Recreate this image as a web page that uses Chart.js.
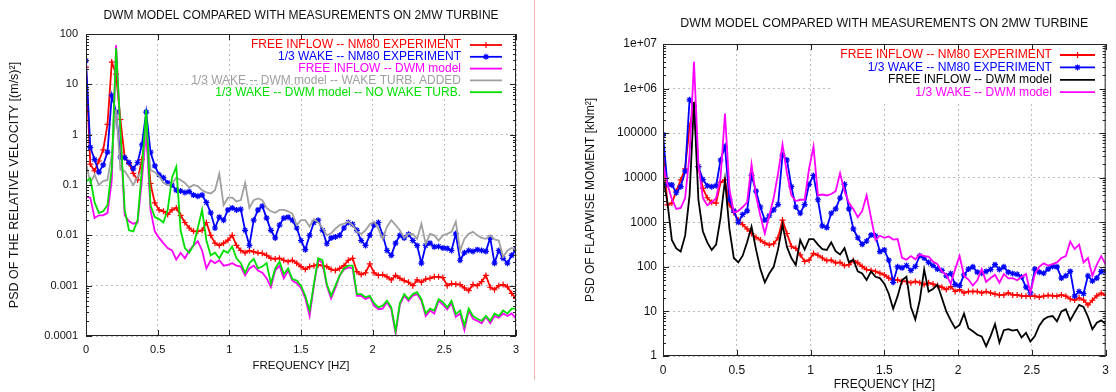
<!DOCTYPE html>
<html>
<head>
<meta charset="utf-8">
<script src="https://cdn.jsdelivr.net/npm/chart.js@4.4.1/dist/chart.umd.min.js"></script>
<style>
  html, body { margin: 0; padding: 0; background: #fff; }
  #wrap { position: relative; width: 1116px; height: 392px; overflow: hidden; }
  #velocity { position: absolute; left: 0; top: 0; }
  #moment { position: absolute; left: 540px; top: 0; }
  #sep { position: absolute; left: 534px; top: 0; width: 1px; height: 380px; background: #ffb4b4; }
</style>
</head>
<body>
<div id="wrap">
  <canvas id="velocity" width="530" height="392"></canvas>
  <div id="sep"></div>
  <canvas id="moment" width="576" height="392"></canvas>
</div>
<script>
// frequency bins [Hz], shared by both plots
const frequency = [
  0, 0.03, 0.06, 0.09, 0.12, 0.15, 0.18, 0.21, 0.24, 0.27,
  0.3, 0.33, 0.36, 0.39, 0.42, 0.45, 0.48, 0.51, 0.54, 0.57,
  0.6, 0.63, 0.66, 0.69, 0.72, 0.75, 0.78, 0.81, 0.84, 0.87,
  0.9, 0.93, 0.96, 0.99, 1.02, 1.05, 1.08, 1.11, 1.14, 1.17,
  1.2, 1.23, 1.26, 1.29, 1.32, 1.35, 1.38, 1.41, 1.44, 1.47,
  1.5, 1.53, 1.56, 1.59, 1.62, 1.65, 1.68, 1.71, 1.74, 1.77,
  1.8, 1.83, 1.86, 1.89, 1.92, 1.95, 1.98, 2.01, 2.04, 2.07,
  2.1, 2.13, 2.16, 2.19, 2.22, 2.25, 2.28, 2.31, 2.34, 2.37,
  2.4, 2.43, 2.46, 2.49, 2.52, 2.55, 2.58, 2.61, 2.64, 2.67,
  2.7, 2.73, 2.76, 2.79, 2.82, 2.85, 2.88, 2.91, 2.94, 2.97,
  3
];
const xTicks = [0, 0.5, 1, 1.5, 2, 2.5, 3];
const xTickLabels = ['0', '0.5', '1', '1.5', '2', '2.5', '3'];

// ---- left plot: PSD of relative velocity [(m/s)^2]
const velFreeExp = [
  22, 0.26, 0.19, 0.3, 0.5, 1.6, 27.5, 16, 2.0, 0.35,
  0.27, 0.17, 0.126, 0.32, 1.1, 0.107, 0.044, 0.032, 0.03, 0.026,
  0.032, 0.035, 0.025, 0.018, 0.014, 0.012, 0.012, 0.0126, 0.018, 0.01,
  0.007, 0.0063, 0.007, 0.008, 0.01, 0.0063, 0.005, 0.0045, 0.005, 0.0047,
  0.0045, 0.0044, 0.004, 0.0035, 0.0034, 0.0035, 0.0032, 0.003, 0.0032, 0.0028,
  0.0024, 0.0021, 0.0024, 0.0025, 0.0026, 0.0025, 0.0024, 0.0021, 0.002, 0.0022,
  0.0025, 0.0032, 0.0035, 0.0019, 0.00166, 0.0018, 0.0027, 0.0018, 0.0016, 0.00166,
  0.0015, 0.0013, 0.0016, 0.0014, 0.00126, 0.00117, 0.001, 0.0013, 0.00117, 0.00135,
  0.0014, 0.0015, 0.0015, 0.00145, 0.001, 0.0011, 0.00107, 0.00105, 0.0009, 0.0008,
  0.00105, 0.001, 0.0012, 0.0016, 0.00093, 0.00083, 0.001, 0.00105, 0.00095, 0.0007,
  0.00056
];
const velWakeExp = [
  29.5, 0.56, 0.32, 0.18, 0.25, 0.45, 6.0, 2.8, 0.36, 0.35,
  0.28, 0.21, 0.28, 0.63, 2.8, 0.45, 0.24, 0.16, 0.14, 0.11,
  0.1, 0.079, 0.076, 0.071, 0.074, 0.063, 0.06, 0.063, 0.045, 0.028,
  0.014, 0.023, 0.02, 0.032, 0.035, 0.032, 0.033, 0.0126, 0.0063, 0.02,
  0.032, 0.038, 0.022, 0.0126, 0.0089, 0.016, 0.022, 0.023, 0.02, 0.014,
  0.0079, 0.0052, 0.01, 0.018, 0.02, 0.0126, 0.0068, 0.0089, 0.0093, 0.01,
  0.014, 0.018, 0.0166, 0.0126, 0.0079, 0.0063, 0.01, 0.016, 0.018, 0.01,
  0.005, 0.004, 0.007, 0.01, 0.0089, 0.0105, 0.0079, 0.0063, 0.0028, 0.0063,
  0.007, 0.0059, 0.006, 0.0056, 0.0055, 0.005, 0.0107, 0.0032, 0.0045, 0.005,
  0.0048, 0.0052, 0.005, 0.0048, 0.0089, 0.0028, 0.005, 0.0035, 0.0028, 0.004,
  0.0052
];
const velFreeDwm = [
  0.059, 0.056, 0.022, 0.025, 0.025, 0.028, 0.126, 60, 1.0, 0.025,
  0.019, 0.017, 0.018, 0.126, 1.2, 0.032, 0.012, 0.0089, 0.007, 0.0056,
  0.005, 0.0033, 0.0045, 0.0035, 0.005, 0.0063, 0.0076, 0.005, 0.0022, 0.0032,
  0.0028, 0.0032, 0.0025, 0.0026, 0.0028, 0.0025, 0.0024, 0.0016, 0.0022, 0.0025,
  0.002, 0.0018, 0.0014, 0.00093, 0.002, 0.0025, 0.0014, 0.002, 0.00126, 0.00112,
  0.0009, 0.00056, 0.00025, 0.001, 0.0033, 0.0028, 0.001, 0.00056, 0.0009, 0.0016,
  0.0021, 0.0023, 0.0022, 0.00063, 0.00063, 0.00054, 0.0006, 0.0004, 0.00034, 0.00035,
  0.00047, 0.00034, 0.000112, 0.00042, 0.00063, 0.0005, 0.00063, 0.00068, 0.0005, 0.00025,
  0.00032, 0.00028, 0.0005, 0.00042, 0.00034, 0.00045, 0.00024, 0.00028, 0.000132, 0.00032,
  0.00022, 0.0002, 0.000178, 0.00024, 0.000178, 0.00025, 0.00023, 0.00028, 0.00025, 0.00028,
  0.00022
];
const velWakeDwmTurb = [
  0.28, 0.11, 0.16, 0.1, 0.12, 0.126, 0.4, 3.2, 0.2, 0.19,
  0.14, 0.1, 0.14, 0.2, 1.6, 0.2, 0.18, 0.15, 0.11, 0.1,
  0.107, 0.14, 0.126, 0.11, 0.089, 0.1, 0.095, 0.079, 0.071, 0.068,
  0.079, 0.166, 0.04, 0.056, 0.056, 0.047, 0.05, 0.11, 0.035, 0.05,
  0.054, 0.05, 0.035, 0.03, 0.028, 0.032, 0.032, 0.03, 0.027, 0.016,
  0.02, 0.02, 0.015, 0.021, 0.018, 0.014, 0.01, 0.011, 0.0135, 0.016,
  0.017, 0.0186, 0.016, 0.0117, 0.0107, 0.0126, 0.0166, 0.0186, 0.0135, 0.0085,
  0.0148, 0.02, 0.016, 0.0126, 0.0089, 0.0107, 0.0107, 0.0085, 0.017, 0.0068,
  0.0107, 0.01, 0.0079, 0.01, 0.0107, 0.0117, 0.0186, 0.005, 0.0085, 0.0107,
  0.0117, 0.01, 0.0089, 0.0085, 0.01, 0.0083, 0.0079, 0.0037, 0.005, 0.0056,
  0.0052
];
const velWakeDwmNoTurb = [
  0.117, 0.135, 0.045, 0.028, 0.03, 0.04, 0.22, 52, 1.26, 0.032,
  0.0126, 0.012, 0.02, 0.2, 3.1, 0.04, 0.023, 0.021, 0.018, 0.032,
  0.14, 0.23, 0.0126, 0.0056, 0.0045, 0.0063, 0.014, 0.032, 0.0079, 0.004,
  0.0045, 0.0035, 0.005, 0.0045, 0.006, 0.0035, 0.0028, 0.0018, 0.0028, 0.0034,
  0.0022, 0.0024, 0.0028, 0.0011, 0.0022, 0.003, 0.0017, 0.0022, 0.00135, 0.00126,
  0.001, 0.00063, 0.00032, 0.00107, 0.0035, 0.0032, 0.00107, 0.00063, 0.001, 0.0016,
  0.0022, 0.0025, 0.0025, 0.00068, 0.00068, 0.00059, 0.00063, 0.00045, 0.00037, 0.0004,
  0.0005, 0.00037, 0.000126, 0.00045, 0.00068, 0.00054, 0.00068, 0.00074, 0.00054, 0.00028,
  0.00035, 0.00032, 0.00054, 0.00047, 0.00037, 0.0005, 0.00027, 0.00032, 0.00016, 0.00035,
  0.00025, 0.00022, 0.0002, 0.00025, 0.0002, 0.00028, 0.00025, 0.00032, 0.00028, 0.00035,
  0.00035
];
const velTicks = [0.0001, 0.001, 0.01, 0.1, 1, 10, 100];
const velTickLabels = ['0.0001', '0.001', '0.01', '0.1', '1', '10', '100'];

// ---- right plot: PSD of flapwise moment [kNm^2]
const momFreeExp = [
  48000, 2450, 2700, 5000, 8900, 15800, 141000, 400000, 17800, 5750,
  3550, 2800, 2700, 7900, 8900, 2500, 1660, 1120, 890, 710,
  560, 460, 400, 340, 310, 330, 450, 1120, 560, 290,
  260, 186, 132, 141, 200, 182, 158, 138, 141, 123,
  126, 107, 112, 138, 123, 102, 87, 83, 79, 72,
  66, 56, 51, 51, 47, 47, 44, 47, 44, 40,
  44, 41, 38, 35, 31, 36, 28, 31, 26, 28,
  28, 28, 26, 28, 26, 24.5, 23.4, 23.4, 26, 23.4,
  23.4, 22.4, 22, 22, 22, 21, 22, 23, 22.5, 22,
  23.4, 22, 19, 18, 20, 18, 14, 17.8, 22.4, 25.7,
  23
];
const momWakeExp = [
  93000, 7100, 6900, 4600, 6300, 14000, 560000, 400000, 17800, 9100,
  6600, 6300, 6600, 25000, 50000, 3200, 1800, 1000, 1500, 1800,
  11200, 5000, 2200, 1120, 1400, 1900, 2500, 32000, 25000, 6300,
  2200, 1600, 2500, 7100, 11200, 3200, 830, 760, 1600, 2000,
  3500, 7100, 2000, 710, 450, 320, 380, 520, 500, 220,
  240, 141, 45, 100, 95, 107, 83, 102, 178, 158,
  126, 107, 89, 83, 63, 71, 40, 38, 66, 89,
  100, 76, 72, 79, 87, 112, 87, 100, 76, 71,
  68, 59, 35, 26, 89, 76, 72, 89, 102, 100,
  56, 63, 79, 22, 28, 25, 63, 48, 56, 79,
  79
];
const momFreeDwm = [
  10000, 2800, 400, 260, 220, 500, 4000, 500000, 3200, 630,
  355, 240, 316, 1260, 8900, 710, 158, 126, 178, 355,
  800, 250, 89, 45, 71, 100, 250, 890, 280, 158,
  110, 400, 245, 420, 420, 316, 250, 240, 355, 224,
  190, 263, 126, 145, 79, 71, 51, 79, 60, 56,
  42, 25, 11.5, 22, 50, 60, 12.6, 6.6, 17.8, 87,
  28, 32, 40, 20, 10, 6.3, 4.2, 5, 8.9, 4.2,
  3.6, 3.0, 2.75, 1.66, 2.8, 5.2, 2.0, 3.8, 4.0, 3.7,
  3.9, 2.6, 3.3, 2.1, 2.8, 4.8, 6.6, 7.6, 7.9, 6.0,
  10, 11.2, 6.3, 9.5, 14, 12.6, 7.6, 4.0, 5.6, 6.3,
  5.2
];
const momWakeDwm = [
  20000, 7100, 3300, 2000, 2100, 3500, 32000, 4000000, 20000, 3500,
  2400, 2800, 3500, 10000, 275000, 5600, 1660, 1800, 2200, 2800,
  20000, 4000, 1400, 560, 1400, 3500, 12600, 56000, 12600, 4000,
  3000, 3200, 3200, 16000, 50000, 4000, 4200, 4000, 4300, 5000,
  12600, 5000, 2750, 2000, 1300, 1800, 4000, 1260, 400, 500,
  450, 480, 410, 420, 160, 145, 174, 148, 190, 174,
  170, 132, 115, 79, 66, 42, 89, 174, 63, 52,
  38, 50, 89, 46, 56, 66, 44, 69, 55, 56,
  50, 59, 69, 26, 68, 100, 120, 107, 115, 126,
  158, 174, 370, 250, 316, 126, 158, 63, 112, 174,
  112
];
const momTicks = [1, 10, 100, 1000, 10000, 100000, 1e6, 1e7];
const momTickLabels = ['1', '10', '100', '1000', '10000', '100000', '1e+06', '1e+07'];

const TITLE = 'DWM MODEL COMPARED WITH MEASUREMENTS ON 2MW TURBINE';
const FONT = "'Liberation Sans', Arial, Helvetica, sans-serif";
Chart.defaults.font.family = FONT;
Chart.defaults.color = '#111';

// gnuplot look: frame, inward ticks, title and key drawn on the canvas
const gnuplotLook = {
  id: 'gnuplotLook',
  beforeDatasetsDraw(chart, args, opts) {
    const { ctx, chartArea: a } = chart;
    ctx.save();
    ctx.fillStyle = '#fff';
    ctx.fillRect(opts.keyLeft, a.top + 1, a.right - opts.keyLeft - 1, opts.keyBottom - a.top);
    ctx.restore();
  },
  afterDraw(chart, args, opts) {
    const { ctx, chartArea: a, scales } = chart;
    const xs = scales.x, ys = scales.y;
    ctx.save();
    ctx.strokeStyle = '#222';
    ctx.lineWidth = 1;
    ctx.strokeRect(a.left + 0.5, a.top + 0.5, a.right - a.left - 1, a.bottom - a.top - 1);
    ctx.beginPath();
    const e0 = Math.round(Math.log10(ys.min)), e1 = Math.round(Math.log10(ys.max));
    for (let e = e0; e < e1; e++) {
      for (let m = 1; m < 10; m++) {
        const py = Math.round(ys.getPixelForValue(m * Math.pow(10, e))) + 0.5;
        const len = m === 1 ? 6 : 3;
        ctx.moveTo(a.left, py); ctx.lineTo(a.left + len, py);
        ctx.moveTo(a.right, py); ctx.lineTo(a.right - len, py);
      }
    }
    xTicks.forEach(v => {
      const px = Math.round(xs.getPixelForValue(v)) + 0.5;
      ctx.moveTo(px, a.bottom); ctx.lineTo(px, a.bottom - 6);
      ctx.moveTo(px, a.top); ctx.lineTo(px, a.top + 6);
    });
    ctx.stroke();

    // title
    ctx.fillStyle = '#111';
    ctx.font = opts.titleSize + 'px ' + FONT;
    ctx.textAlign = 'center';
    ctx.textBaseline = 'middle';
    ctx.fillText(TITLE, (a.left + a.right) / 2, opts.titleY);

    // key
    ctx.font = opts.keySize + 'px ' + FONT;
    ctx.textAlign = 'right';
    chart.data.datasets.forEach((ds, i) => {
      const y = opts.keyY + i * opts.keyDy;
      ctx.fillStyle = ds.borderColor;
      ctx.fillText(ds.label, opts.keyText, y);
      ctx.strokeStyle = ds.borderColor;
      ctx.lineWidth = ds.borderWidth;
      ctx.beginPath();
      ctx.moveTo(opts.keyX1, y); ctx.lineTo(opts.keyX2, y);
      ctx.stroke();
      if (ds.pointRadius > 0) {
        ctx.lineWidth = ds.pointBorderWidth;
        Chart.helpers.drawPoint(ctx, { pointStyle: ds.pointStyle, radius: ds.pointRadius, rotation: 0, borderWidth: ds.pointBorderWidth }, (opts.keyX1 + opts.keyX2) / 2, y);
      }
    });
    ctx.restore();
  }
};

function lineSet(label, data, color, order, marker) {
  return {
    label: label,
    data: data,
    borderColor: color,
    backgroundColor: color,
    borderWidth: 1.8,
    tension: 0,
    order: order,
    pointStyle: marker || 'circle',
    pointRadius: marker ? 3 : 0,
    pointBorderWidth: 1.2,
    pointBorderColor: color
  };
}

function makeChart(canvasId, datasets, yMin, yMax, yTicks, yLabels, yTitle, geo) {
  const ctx = document.getElementById(canvasId).getContext('2d');
  return new Chart(ctx, {
    type: 'line',
    data: { labels: frequency, datasets: datasets },
    options: {
      responsive: false,
      animation: false,
      events: [],
      layout: { padding: { top: geo.top, right: geo.right, left: 0, bottom: 0 } },
      plugins: {
        legend: { display: false },
        tooltip: { enabled: false },
        gnuplotLook: geo.look
      },
      scales: {
        x: {
          type: 'linear',
          min: 0,
          max: 3,
          afterBuildTicks: s => { s.ticks = xTicks.map(v => ({ value: v })); },
          afterFit: s => { s.height = geo.xHeight; },
          ticks: {
            font: { size: geo.tickSize },
            color: '#111',
            padding: geo.xTickPad,
            maxRotation: 0,
            callback: (v, i) => xTickLabels[i]
          },
          grid: { color: '#bcbcbc', lineWidth: 1, drawTicks: false },
          border: { display: false, dash: [2, 3] },
          title: {
            display: true,
            text: 'FREQUENCY [HZ]',
            font: { size: geo.xTitleSize },
            color: '#111',
            padding: { top: 0, bottom: geo.xTitlePad }
          }
        },
        y: {
          type: 'logarithmic',
          min: yMin,
          max: yMax,
          afterBuildTicks: s => { s.ticks = yTicks.map(v => ({ value: v })); },
          afterFit: s => { s.width = geo.yWidth; },
          ticks: {
            font: { size: geo.tickSize },
            color: '#111',
            padding: geo.yTickPad,
            callback: (v, i) => yLabels[i]
          },
          grid: { color: '#bcbcbc', lineWidth: 1, drawTicks: false },
          border: { display: false, dash: [2, 3] },
          title: {
            display: true,
            text: yTitle,
            font: { size: geo.yTitleSize },
            color: '#111',
            padding: { top: geo.yTitlePad, bottom: 0 }
          }
        }
      }
    },
    plugins: [gnuplotLook]
  });
}

makeChart('velocity', [
  lineSet('FREE INFLOW -- NM80 EXPERIMENT', velFreeExp, '#ff0000', 5, 'cross'),
  lineSet('1/3 WAKE -- NM80 EXPERIMENT', velWakeExp, '#0000ff', 4, 'star'),
  lineSet('FREE INFLOW -- DWM model', velFreeDwm, '#ff00ff', 3),
  lineSet('1/3 WAKE -- DWM model -- WAKE TURB. ADDED', velWakeDwmTurb, '#a0a0a0', 2),
  lineSet('1/3 WAKE -- DWM model -- NO WAKE TURB.', velWakeDwmNoTurb, '#00e000', 1)
], 0.0001, 100, velTicks, velTickLabels, 'PSD OF THE RELATIVE VELOCITY [(m/s)²]', {
  top: 34, right: 14, xHeight: 56, yWidth: 86,
  tickSize: 11, xTitleSize: 11.5, yTitleSize: 12.5, xTickPad: 7, yTickPad: 8, xTitlePad: 19, yTitlePad: 7,
  look: { titleY: 16, titleSize: 12, keySize: 12, keyText: 461, keyX1: 470, keyX2: 502,
          keyY: 45, keyDy: 11.8, keyLeft: 299, keyBottom: 98 }
});

makeChart('moment', [
  lineSet('FREE INFLOW -- NM80 EXPERIMENT', momFreeExp, '#ff0000', 4, 'cross'),
  lineSet('1/3 WAKE -- NM80 EXPERIMENT', momWakeExp, '#0000ff', 3, 'star'),
  lineSet('FREE INFLOW -- DWM model', momFreeDwm, '#000000', 2),
  lineSet('1/3 WAKE -- DWM model', momWakeDwm, '#ff00ff', 1)
], 1, 1e7, momTicks, momTickLabels, 'PSD OF FLAPWISE MOMENT [kNm²]', {
  top: 44, right: 8, xHeight: 36, yWidth: 123,
  tickSize: 12, xTitleSize: 12, yTitleSize: 12, xTickPad: 7, yTickPad: 6, xTitlePad: 0, yTitlePad: 43,
  look: { titleY: 24, titleSize: 12.4, keySize: 12.1, keyText: 512, keyX1: 520, keyX2: 555,
          keyY: 55, keyDy: 12.4, keyLeft: 293, keyBottom: 103 }
});
</script>
</body>
</html>
